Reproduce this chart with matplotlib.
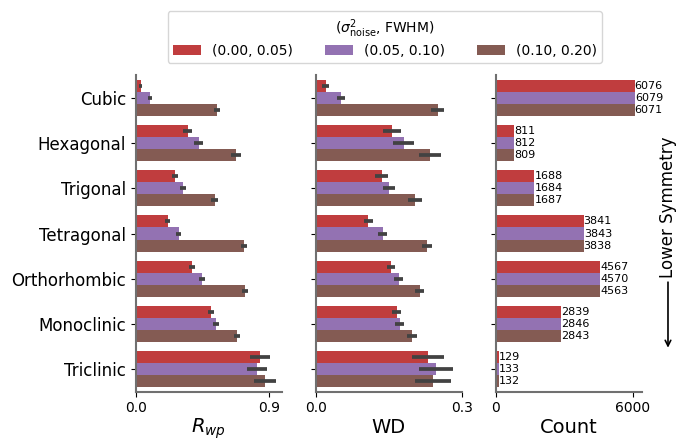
import colorsys
import matplotlib.pyplot as plt
import matplotlib.colors as mcolors
import numpy as np

crystal = ["Cubic", "Hexagonal", "Trigonal", "Tetragonal",
           "Orthorhombic", "Monoclinic", "Triclinic"]
groups = ["(0.00, 0.05)", "(0.05, 0.10)", "(0.10, 0.20)"]

# Rwp means and CI half widths (rows = group, cols = crystal system)
rwp = [[0.034, 0.351, 0.263, 0.216, 0.378, 0.506, 0.837],
       [0.094, 0.425, 0.317, 0.290, 0.446, 0.540, 0.817],
       [0.547, 0.675, 0.533, 0.729, 0.736, 0.682, 0.871]]
rwp_err = [[0.011, 0.030, 0.021, 0.017, 0.019, 0.020, 0.070],
           [0.015, 0.030, 0.020, 0.018, 0.020, 0.020, 0.066],
           [0.020, 0.035, 0.024, 0.021, 0.020, 0.020, 0.072]]

wd = [[0.020, 0.156, 0.135, 0.108, 0.154, 0.166, 0.230],
      [0.051, 0.180, 0.150, 0.137, 0.170, 0.172, 0.246],
      [0.250, 0.234, 0.203, 0.228, 0.213, 0.197, 0.240]]
wd_err = [[0.0065, 0.019, 0.013, 0.010, 0.0086, 0.0096, 0.033],
          [0.008, 0.021, 0.013, 0.010, 0.009, 0.0096, 0.035],
          [0.013, 0.022, 0.014, 0.011, 0.009, 0.010, 0.037]]

counts = [[6076, 811, 1688, 3841, 4567, 2839, 129],
          [6079, 812, 1684, 3843, 4570, 2846, 133],
          [6071, 809, 1687, 3838, 4563, 2843, 132]]


def desat(c, prop=0.75):
    r, g, b = mcolors.to_rgb(c)
    h, l, s = colorsys.rgb_to_hls(r, g, b)
    return colorsys.hls_to_rgb(h, l, s * prop)


colors = [desat(c) for c in ["tab:red", "tab:purple", "tab:brown"]]

fig, axes = plt.subplots(1, 3, figsize=(6.79, 4.41), dpi=100, sharey=True)
fig.subplots_adjust(left=0.2, right=0.9455, top=0.829, bottom=0.112, wspace=0.233)

y = np.arange(len(crystal))
h = 0.8 / 3
offsets = [-h, 0, h]

panels = [(rwp, rwp_err), (wd, wd_err), (counts, None)]
for ax, (vals, errs) in zip(axes, panels):
    for i in range(3):
        kw = {}
        if errs is not None:
            kw = dict(xerr=errs[i], error_kw=dict(ecolor="#424242", elinewidth=2.7, capsize=0))
        bars = ax.barh(y + offsets[i], vals[i], height=h, color=colors[i],
                       label=groups[i], **kw)
        if errs is None:
            ax.bar_label(bars, labels=[str(v) for v in vals[i]], padding=0, fontsize=8)
    for s in ["top", "right"]:
        ax.spines[s].set_visible(False)
    for s in ["left", "bottom"]:
        ax.spines[s].set_color("#707070")
        ax.spines[s].set_linewidth(1.5)
    ax.tick_params(labelsize=10)

axes[0].set_ylim(len(crystal) - 0.5, -0.5)
axes[0].set_yticks(y)
axes[0].set_yticklabels(crystal, fontsize=12)
axes[1].tick_params(axis="y", labelleft=False)
axes[2].tick_params(axis="y", labelleft=False)

axes[0].set_xlim(0, 0.985)
axes[0].set_xticks([0, 0.9])
axes[0].set_xticklabels(["0.0", "0.9"])
axes[0].set_xlabel("$R_{wp}$", fontsize=14, labelpad=1)

axes[1].set_xlim(0, 0.3)
axes[1].set_xticks([0, 0.3])
axes[1].set_xticklabels(["0.0", "0.3"])
axes[1].set_xlabel("WD", fontsize=14, labelpad=2)

axes[2].set_xlim(0, 6395)
axes[2].set_xticks([0, 6000])
axes[2].set_xlabel("Count", fontsize=14, labelpad=2)

handles, labels = axes[0].get_legend_handles_labels()
fig.legend(handles, labels, loc="upper center", bbox_to_anchor=(0.567, 0.99),
           ncol=3, fontsize=10, title=r"($\sigma^2_{\rm noise}$, FWHM)",
           title_fontsize=10, handlelength=2.0, columnspacing=2.3,
           labelspacing=0.3)

axes[2].text(1.178, 0.5825, "Lower Symmetry", transform=axes[2].transAxes,
             rotation=90, ha="center", va="center", fontsize=12)
axes[2].annotate("", xy=(1.178, 0.13), xytext=(1.178, 0.355),
                 xycoords="axes fraction", annotation_clip=False,
                 arrowprops=dict(arrowstyle="->", color="black", lw=1.2))

fig.savefig("out.png", dpi=100)
